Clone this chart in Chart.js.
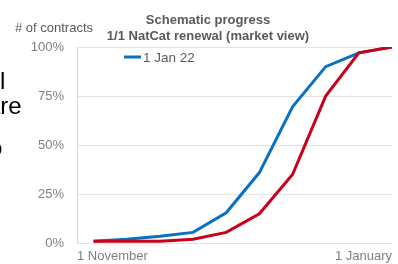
<!DOCTYPE html>
<html>
<head>
<meta charset="utf-8">
<script src="https://cdn.jsdelivr.net/npm/chart.js@4"></script>
<style>
    body { margin: 0; background: #fff; }
    #wrap { position: relative; width: 398px; height: 264px; overflow: hidden; font-family: "Liberation Sans", Arial, sans-serif; }
    #chart { position: absolute; left: 0; top: 0; }
    .frag { position: absolute; font-size: 24px; color: #000; line-height: 1; white-space: nowrap; }
</style>
</head>
<body>
<div id="wrap">
    <canvas id="chart" width="398" height="264"></canvas>
    <div class="frag" style="left:0px; top:69px;">l</div>
    <div class="frag" style="left:-13px; top:94px;">are</div>
    <div class="frag" style="left:-11px; top:136px;">o</div>
</div>
<script>
// step of the renewal season, 1 November .. 1 January
const steps = [0, 1, 2, 3, 4, 5, 6, 7, 8, 9];
const xTickLabels = ['1 November', '1 January'];
const yTicks = [0, 25, 50, 75, 100];

const jan22 = [1, 2, 3.5, 5.5, 15.5, 36, 69.5, 90, 97, 100];
const jan23 = [1, 1, 1, 2, 5.5, 15, 35, 75, 97, 100];

const BLUE = '#0a70c0';
const RED = '#c8001a';
const FONT = '"Liberation Sans", Arial, sans-serif';

const pontos = (vals) => steps.map((s, i) => ({ x: s, y: vals[i] }));

const textos = {
    id: 'textos',
    afterDraw(chart) {
        const ctx = chart.ctx;
        ctx.save();
        ctx.textBaseline = 'alphabetic';

        ctx.fillStyle = '#595959';
        ctx.font = 'bold 13px ' + FONT;
        ctx.textAlign = 'center';
        ctx.fillText('Schematic progress', 208, 24);
        ctx.fillText('1/1 NatCat renewal (market view)', 208, 40);

        ctx.font = '13px ' + FONT;
        ctx.textAlign = 'left';
        ctx.fillText('# of contracts', 15, 32);

        // legenda (somente a serie azul)
        ctx.strokeStyle = BLUE;
        ctx.lineWidth = 3;
        ctx.beginPath();
        ctx.moveTo(124, 57);
        ctx.lineTo(141, 57);
        ctx.stroke();
        ctx.font = '13.5px ' + FONT;
        ctx.fillText('1 Jan 22', 143, 62);
        ctx.restore();
    }
};

new Chart(document.getElementById('chart'), {
    type: 'line',
    data: {
        datasets: [
            {
                label: '1 Jan 23',
                data: pontos(jan23),
                borderColor: RED,
                borderWidth: 3,
                pointRadius: 0,
                tension: 0,
                order: 0
            },
            {
                label: '1 Jan 22',
                data: pontos(jan22),
                borderColor: BLUE,
                borderWidth: 3,
                pointRadius: 0,
                tension: 0,
                order: 1
            }
        ]
    },
    options: {
        responsive: false,
        animation: false,
        layout: { padding: { top: 47, right: 6, left: 0, bottom: 0 } },
        plugins: {
            legend: { display: false },
            title: { display: false },
            tooltip: { enabled: false }
        },
        scales: {
            x: {
                type: 'linear',
                min: -0.5,
                max: 9,
                grid: { display: false, drawTicks: false },
                border: { display: false },
                afterBuildTicks: (s) => { s.ticks = [{ value: -0.5 }, { value: 9 }]; },
                afterFit: (s) => { s.height = 20; },
                ticks: {
                    align: 'inner',
                    padding: 5,
                    color: '#7f7f7f',
                    font: { family: FONT, size: 13 },
                    callback: (v, i) => xTickLabels[i]
                }
            },
            y: {
                min: 0,
                max: 100,
                grid: { color: '#e3e3e3', drawTicks: false },
                border: { display: true, color: '#d9d9d9' },
                afterBuildTicks: (s) => { s.ticks = yTicks.map(v => ({ value: v })); },
                afterFit: (s) => { s.width = 77; },
                ticks: {
                    padding: 13,
                    color: '#7f7f7f',
                    font: { family: FONT, size: 13 },
                    callback: (v) => v + '%'
                }
            }
        }
    },
    plugins: [textos]
});
</script>
</body>
</html>
